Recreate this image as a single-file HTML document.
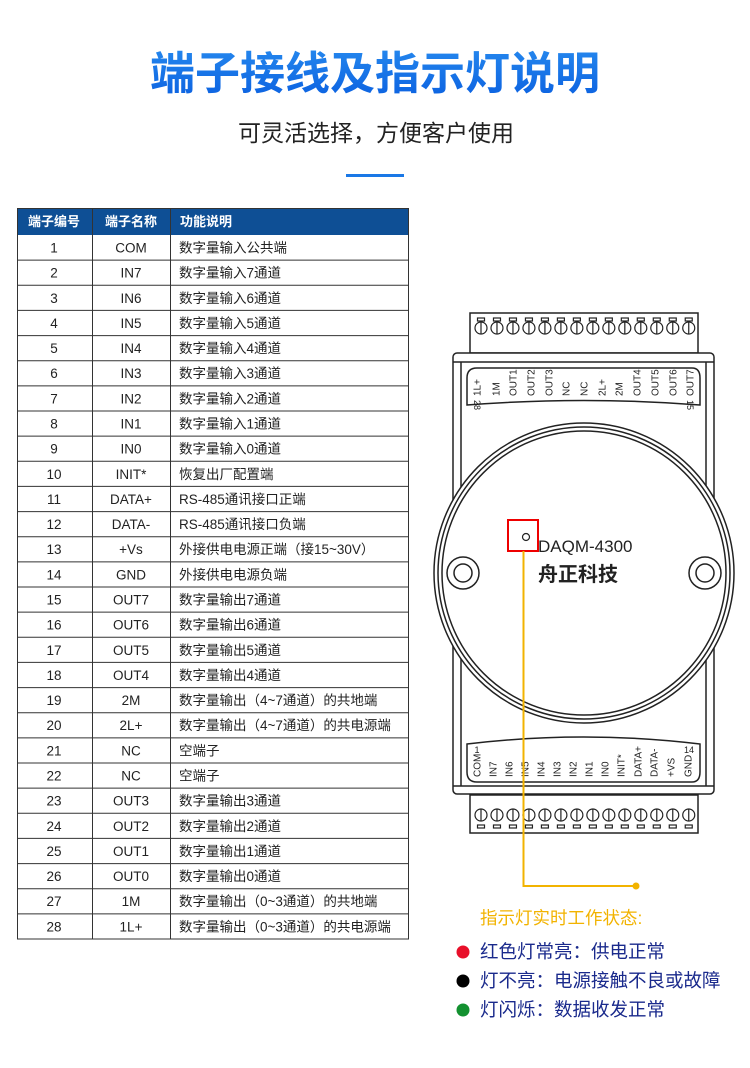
<!DOCTYPE html>
<html><head><meta charset="utf-8"><style>
html,body{margin:0;padding:0;background:#fff;}
svg{display:block;}
text{font-family:"Liberation Sans","Noto Sans CJK SC",sans-serif;}
</style></head><body>
<svg width="750" height="1068" viewBox="0 0 750 1068" xmlns="http://www.w3.org/2000/svg">
<defs>
<linearGradient id="tg" x1="0" y1="0" x2="0" y2="1"><stop offset="0" stop-color="#2a8ff0"/><stop offset="1" stop-color="#0a5fe0"/></linearGradient>
</defs>
<text x="375" y="89" text-anchor="middle" font-size="45" font-weight="bold" fill="url(#tg)" style="font-family:'Noto Sans CJK SC',sans-serif">端子接线及指示灯说明</text>
<text x="376" y="141" text-anchor="middle" font-size="23" fill="#222" style="font-family:'Noto Sans CJK SC',sans-serif">可灵活选择，方便客户使用</text>
<rect x="346" y="174" width="58" height="3" fill="#1a78e6"/>

<rect x="17" y="208" width="392" height="27" fill="#0e4f95"/>
<g font-size="13" fill="#fff" font-weight="bold" style="font-family:'Noto Sans CJK SC',sans-serif">
<text x="54" y="226" text-anchor="middle">端子编号</text>
<text x="131" y="226" text-anchor="middle">端子名称</text>
<text x="180" y="226">功能说明</text>
</g>
<g id="tbl" font-size="13.5" fill="#222" style="font-family:'Liberation Sans','Noto Sans CJK SC',sans-serif"></g>
<g stroke="#333" stroke-width="1" fill="none">
<rect x="17.5" y="208.5" width="391" height="730.5"/>
<line x1="92.5" y1="208" x2="92.5" y2="939"/>
<line x1="170.5" y1="208" x2="170.5" y2="939"/>
</g>
<g id="rows"></g>

<g stroke="#222" stroke-width="1.5" fill="#fff">
<rect x="470" y="313" width="228" height="40"/>
<rect x="470" y="795" width="228" height="38"/>
<rect x="453" y="353" width="261" height="441" rx="4"/>
<line x1="461" y1="362" x2="461" y2="786"/>
<line x1="706" y1="362" x2="706" y2="786"/>
<line x1="453" y1="362" x2="714" y2="362"/>
<line x1="453" y1="786" x2="714" y2="786"/>
<path d="M467 378 Q467 368 477 368 L692 368 Q700 368 700 378 L700 405 Q584 396 467 405 Z"/>
<path d="M467 772 Q467 782 477 782 L692 782 Q700 782 700 772 L700 744 Q584 730 467 744 Z"/>
<circle cx="584" cy="573" r="150"/>
<circle cx="584" cy="573" r="146" fill="none"/>
<circle cx="584" cy="573" r="142" fill="none"/>
<circle cx="463" cy="573" r="16"/>
<circle cx="463" cy="573" r="9"/>
<circle cx="705" cy="573" r="16"/>
<circle cx="705" cy="573" r="9"/>
</g>
<g id="screws" stroke="#222" stroke-width="1.2" fill="#fff"></g>

<g font-size="10" fill="#222" id="toplab"></g>
<g font-size="10" fill="#222" id="botlab"></g>
<text x="477" y="753" font-size="9" fill="#222" text-anchor="middle">1</text>
<text x="689" y="753" font-size="9" fill="#222" text-anchor="middle">14</text>

<text x="538" y="552" font-size="17" fill="#222">DAQM-4300</text>
<text x="538" y="581" font-size="20" font-weight="bold" fill="#222" style="font-family:'Noto Sans CJK SC',sans-serif">舟正科技</text>
<rect x="508" y="520" width="30" height="31" fill="none" stroke="#e00" stroke-width="2"/>
<circle cx="526" cy="537" r="3.5" fill="none" stroke="#222" stroke-width="1.2"/>
<polyline points="523.5,551 523.5,886 636,886" fill="none" stroke="#f2b300" stroke-width="2"/>
<circle cx="636" cy="886" r="3.5" fill="#f2b300"/>

<g style="font-family:'Noto Sans CJK SC',sans-serif" font-size="18.5">
<text x="480" y="924" fill="#f2b300" font-size="17.5">指示灯实时工作状态:</text>
<text x="480" y="958" fill="#1a2a8c">红色灯常亮：供电正常</text>
<text x="480" y="987" fill="#1a2a8c">灯不亮：电源接触不良或故障</text>
<text x="480" y="1016" fill="#1a2a8c">灯闪烁：数据收发正常</text>
</g>
<circle cx="463" cy="952" r="6.5" fill="#e8102a"/>
<circle cx="463" cy="981" r="6.5" fill="#000"/>
<circle cx="463" cy="1010" r="6.5" fill="#139130"/>
</svg>
<script>
var NS="http://www.w3.org/2000/svg";
function el(t,a,p,txt){var e=document.createElementNS(NS,t);for(var k in a)e.setAttribute(k,a[k]);if(txt!==undefined)e.textContent=txt;p.appendChild(e);return e;}
var data=[["COM","数字量输入公共端"],["IN7","数字量输入7通道"],["IN6","数字量输入6通道"],["IN5","数字量输入5通道"],["IN4","数字量输入4通道"],["IN3","数字量输入3通道"],["IN2","数字量输入2通道"],["IN1","数字量输入1通道"],["IN0","数字量输入0通道"],["INIT*","恢复出厂配置端"],["DATA+","RS-485通讯接口正端"],["DATA-","RS-485通讯接口负端"],["+Vs","外接供电电源正端（接15~30V）"],["GND","外接供电电源负端"],["OUT7","数字量输出7通道"],["OUT6","数字量输出6通道"],["OUT5","数字量输出5通道"],["OUT4","数字量输出4通道"],["2M","数字量输出（4~7通道）的共地端"],["2L+","数字量输出（4~7通道）的共电源端"],["NC","空端子"],["NC","空端子"],["OUT3","数字量输出3通道"],["OUT2","数字量输出2通道"],["OUT1","数字量输出1通道"],["OUT0","数字量输出0通道"],["1M","数字量输出（0~3通道）的共地端"],["1L+","数字量输出（0~3通道）的共电源端"]];
var g=document.getElementById("tbl"),r=document.getElementById("rows");
for(var i=0;i<28;i++){var y0=235+i*25.143,cy=y0+17.5;
el("text",{x:54,y:cy,"text-anchor":"middle"},g,String(i+1));
el("text",{x:131,y:cy,"text-anchor":"middle"},g,data[i][0]);
el("text",{x:179,y:cy},g,data[i][1]);
if(i>0)el("line",{x1:17,y1:y0,x2:409,y2:y0,stroke:"#333","stroke-width":1},r);}
var s=document.getElementById("screws");
for(var i=0;i<14;i++){var x=481+i*15.98;
el("rect",{x:x-3.5,y:318,width:7,height:3},s);
el("circle",{cx:x,cy:328,r:6},s);
el("line",{x1:x,y1:322,x2:x,y2:334},s);
el("rect",{x:x-3.5,y:825,width:7,height:3},s);
el("circle",{cx:x,cy:815,r:6},s);
el("line",{x1:x,y1:809,x2:x,y2:821},s);}
var tl=[["1L+",477],["1M",496],["OUT1",513],["OUT2",531],["OUT3",549],["NC",566],["NC",584],["2L+",602],["2M",619],["OUT4",637],["OUT5",655],["OUT6",673],["OUT7",690]];
var t=document.getElementById("toplab");
tl.forEach(function(a){el("text",{x:0,y:0,transform:"translate("+(a[1]+3.5)+",396) rotate(-90)"},t,a[0]);});
el("text",{x:0,y:0,"font-size":9,transform:"translate(474,400) rotate(90)"},t,"28");
el("text",{x:0,y:0,"font-size":9,transform:"translate(687,400) rotate(90)"},t,"15");
var bl=[["COM",477],["IN7",493],["IN6",509],["IN5",525],["IN4",541],["IN3",557],["IN2",573],["IN1",589],["IN0",605],["INIT*",621],["DATA+",638],["DATA-",654],["+VS",671],["GND",688]];
var b=document.getElementById("botlab");
bl.forEach(function(a){el("text",{x:0,y:0,transform:"translate("+(a[1]+3.5)+",777) rotate(-90)"},b,a[0]);});
</script>
</body></html>
